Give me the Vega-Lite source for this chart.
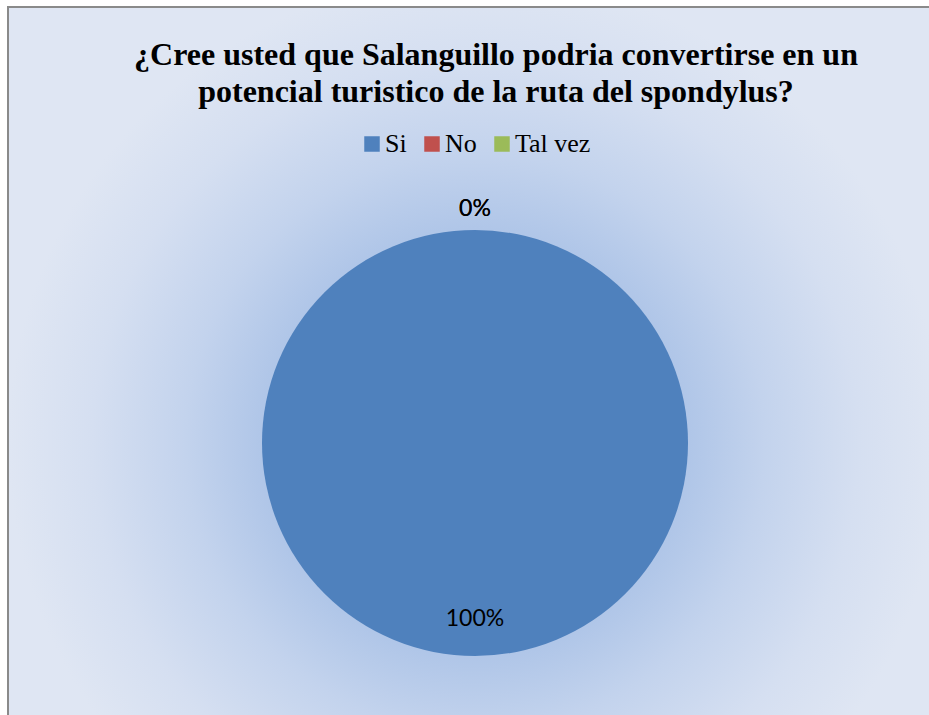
{
  "$schema": "https://vega.github.io/schema/vega-lite/v6.json",
  "width": 934,
  "height": 872,
  "autosize": {"type": "none"},
  "padding": {"left": 8, "top": 7, "right": -13, "bottom": -164},
  "background": "#ffffff",
  "config": {"view": {"stroke": null}},
  "title": {
    "text": ["¿Cree usted que Salanguillo podria convertirse en un", "potencial turistico de la ruta del spondylus?"],
    "font": "Liberation Serif",
    "fontSize": 32,
    "fontWeight": "bold",
    "color": "#000000",
    "lineHeight": 37,
    "anchor": "middle",
    "frame": "group",
    "dx": 21,
    "offset": -103
  },
  "data": {
    "values": [
      {"respuesta": "Si", "proporcion": 1, "orden": 1},
      {"respuesta": "No", "proporcion": 0, "orden": 2},
      {"respuesta": "Tal vez", "proporcion": 0, "orden": 3}
    ]
  },
  "layer": [
    {
      "data": {"values": [{"fondo": 1}]},
      "mark": {
        "type": "rect",
        "stroke": "#8a8a8a",
        "strokeWidth": 2,
        "color": {
          "gradient": "radial",
          "x1": 0.5, "y1": 0.5, "r1": 0,
          "x2": 0.5, "y2": 0.5, "r2": 0.5,
          "stops": [
            {"offset": 0, "color": "#a9c1e6"},
            {"offset": 0.46, "color": "#b0c6e8"},
            {"offset": 0.62, "color": "#c3d3ed"},
            {"offset": 0.82, "color": "#d5dff1"},
            {"offset": 1, "color": "#dfe6f3"}
          ]
        }
      },
      "encoding": {}
    },
    {
      "mark": {"type": "arc", "outerRadius": 213},
      "encoding": {
        "theta": {"field": "proporcion", "type": "quantitative", "stack": true},
        "order": {"field": "orden", "type": "quantitative"},
        "color": {
          "field": "respuesta",
          "type": "nominal",
          "sort": ["Si", "No", "Tal vez"],
          "scale": {"domain": ["Si", "No", "Tal vez"], "range": ["#4f81bd", "#c0504d", "#9bbb59"]},
          "legend": {
            "title": null,
            "orient": "none",
            "legendX": 351,
            "legendY": 124,
            "direction": "horizontal",
            "symbolType": "square",
            "symbolSize": 240,
            "symbolStrokeWidth": 0,
            "symbolOpacity": 1,
            "labelFont": "Liberation Serif",
            "labelFontSize": 26,
            "labelColor": "#000000",
            "labelOffset": 0,
            "columnPadding": 12,
            "padding": 0,
            "labelLimit": 0
          }
        }
      }
    },
    {
      "transform": [{"filter": "datum.proporcion > 0"}],
      "mark": {"type": "text", "radius": 176, "font": "Lato", "fontSize": 23, "color": "#000000"},
      "encoding": {
        "theta": {"field": "proporcion", "type": "quantitative", "stack": true},
        "order": {"field": "orden", "type": "quantitative"},
        "text": {"field": "proporcion", "type": "quantitative", "format": ".0%"}
      }
    },
    {
      "transform": [{"filter": "datum.proporcion == 0"}],
      "mark": {"type": "text", "radius": 234, "font": "Lato", "fontSize": 23, "color": "#000000"},
      "encoding": {
        "theta": {"field": "proporcion", "type": "quantitative", "stack": true},
        "order": {"field": "orden", "type": "quantitative"},
        "text": {"field": "proporcion", "type": "quantitative", "format": ".0%"}
      }
    }
  ]
}
